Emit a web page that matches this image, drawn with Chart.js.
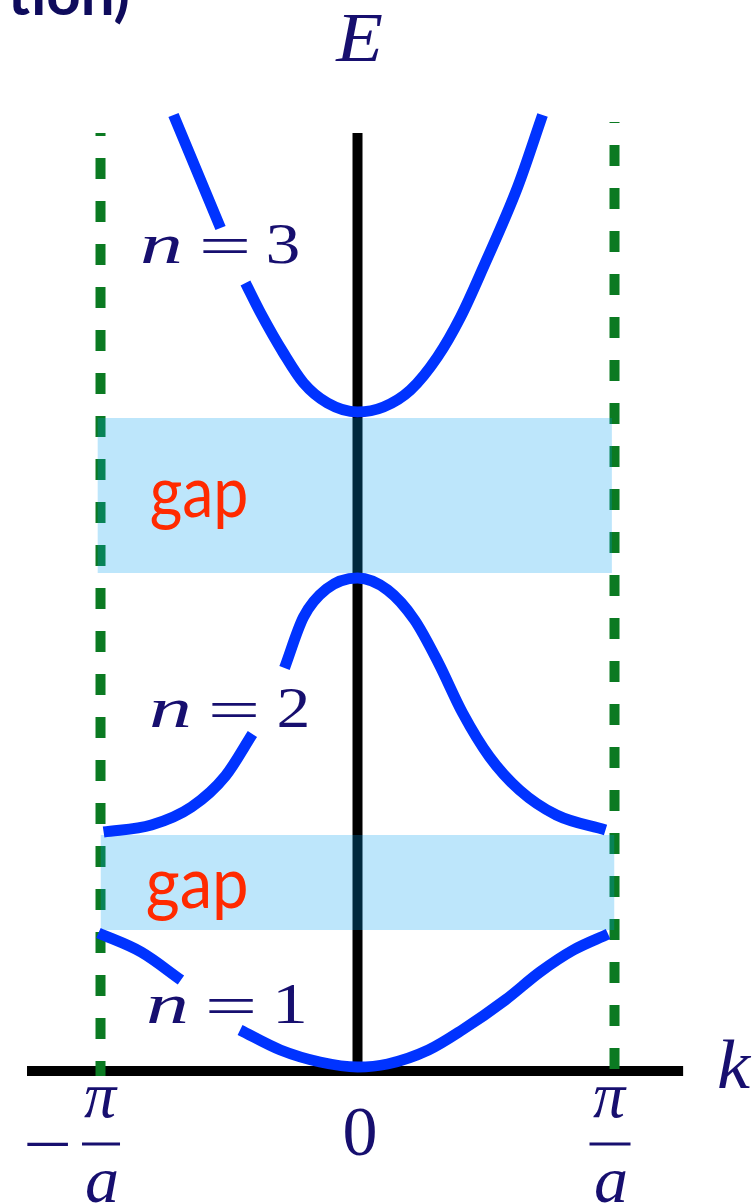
<!DOCTYPE html>
<html>
<head>
<meta charset="utf-8">
<script src="https://cdn.jsdelivr.net/npm/chart.js@4.4.1/dist/chart.umd.min.js"></script>
<style>
  html, body { margin: 0; padding: 0; background: #ffffff; overflow: hidden; }
  canvas { display: block; }
</style>
</head>
<body>
<canvas id="bands" width="752" height="1203"></canvas>
<script>
// Wave vector k in units of pi/a, energy E in arbitrary units.
const zoneEdgeK = [-1, 1];
const tickK = [-1, 0, 1];
const tickLabels = ['−π/a', '0', 'π/a'];

// Axis extents
const axisK = [-1.286, 1.267];
const axisE = [0, 9.38];

// Band n = 3 (left branch is interrupted by its label)
const band3aK = [-0.716, -0.533];
const band3aE = [9.56, 8.43];
const band3bK = [-0.436, -0.377, -0.288, -0.210, -0.117, 0, 0.101, 0.206, 0.311, 0.401, 0.490, 0.623, 0.720];
const band3bE = [7.88, 7.58, 7.18, 6.88, 6.68, 6.59, 6.64, 6.81, 7.14, 7.54, 8.04, 8.84, 9.56];

// Band n = 2
const band2aK = [-0.988, -0.802, -0.646, -0.514, -0.409];
const band2aE = [2.39, 2.46, 2.64, 2.95, 3.37];
const band2bK = [-0.284, -0.210, -0.121, 0, 0.117, 0.222, 0.315, 0.409, 0.514, 0.630, 0.774, 0.965];
const band2bE = [4.03, 4.54, 4.82, 4.93, 4.81, 4.51, 4.08, 3.58, 3.14, 2.81, 2.56, 2.41];

// Band n = 1
const band1aK = [-1.008, -0.842, -0.687];
const band1aE = [1.38, 1.19, 0.91];
const band1bK = [-0.457, -0.300, -0.146, 0, 0.117, 0.276, 0.407, 0.575, 0.710, 0.840, 0.975];
const band1bE = [0.41, 0.21, 0.09, 0.04, 0.07, 0.21, 0.41, 0.71, 0.99, 1.21, 1.37];

// Energy gaps [lower, upper] and their k spans
const gap1E = [1.41, 2.36];
const gap1K = [-1.0, 1.0];
const gap2E = [4.98, 6.53];
const gap2K = [-1.012, 0.990];

const bandNames = ['n = 1', 'n = 2', 'n = 3'];

const pts = (ks, es) => ks.map((k, i) => ({ x: k, y: es[i] }));

const BLUE = '#0033ff';
const GREEN = '#0b7a22';
const NAVY = '#170f6f';
const RED = '#ff2a00';
const GAP_FILL = 'rgba(0, 158, 238, 0.26)';

function curve(ks, es) {
  return {
    data: pts(ks, es),
    borderColor: BLUE,
    borderWidth: 11,
    borderCapStyle: 'butt',
    cubicInterpolationMode: 'monotone',
    pointRadius: 0,
    fill: false,
    order: 1
  };
}

function gapBand(ks, es) {
  return {
    data: pts(ks, [es[1], es[1]]),
    borderColor: 'rgba(0,0,0,0)',
    borderWidth: 0,
    backgroundColor: GAP_FILL,
    pointRadius: 0,
    tension: 0,
    fill: { value: es[0] },
    order: 2
  };
}

function zoneLine(k, eTop, offset) {
  return {
    data: pts([k, k], [eTop, -0.05]),
    borderColor: GREEN,
    borderWidth: 10,
    borderCapStyle: 'butt',
    borderDash: [21, 22],
    borderDashOffset: offset,
    pointRadius: 0,
    fill: false,
    order: 3
  };
}

function axisLine(ks, es) {
  return {
    data: pts(ks, es),
    borderColor: '#000000',
    borderWidth: 10,
    borderCapStyle: 'butt',
    pointRadius: 0,
    fill: false,
    order: 4
  };
}

// Draws text so that its ink box starts at x (left) with the given baseline,
// squeezed or stretched horizontally to a target ink width.
function inkText(ctx, txt, x, baseline, width, font, color) {
  ctx.save();
  ctx.font = font;
  ctx.fillStyle = color;
  ctx.textAlign = 'left';
  ctx.textBaseline = 'alphabetic';
  const m = ctx.measureText(txt);
  const ink = m.actualBoundingBoxLeft + m.actualBoundingBoxRight;
  const s = width / ink;
  ctx.translate(x + m.actualBoundingBoxLeft * s, baseline);
  ctx.scale(s, 1);
  ctx.fillText(txt, 0, 0);
  ctx.restore();
}

// Same, but vertically centred on cy instead of sitting on a baseline.
function inkTextMid(ctx, txt, x, cy, width, font, color) {
  ctx.save();
  ctx.font = font;
  const m = ctx.measureText(txt);
  ctx.restore();
  const base = cy + (m.actualBoundingBoxAscent - m.actualBoundingBoxDescent) / 2;
  inkText(ctx, txt, x, base, width, font, color);
}

const MATH_I = 'italic 58px "Liberation Serif", "DejaVu Serif", serif';
const MATH_R = '58px "Liberation Serif", "DejaVu Serif", serif';

const labelPlugin = {
  id: 'bandLabels',
  afterDatasetsDraw(chart) {
    const ctx = chart.ctx;
    const xs = chart.scales.x, ys = chart.scales.y;
    const px = k => xs.getPixelForValue(k);
    const py = e => ys.getPixelForValue(e);

    // Band labels "n = 1..3", anchored in (k, E)
    const bandAnchors = [
      { k: -0.811, e: 0.48, dw: 26 },
      { k: -0.800, e: 3.44, dw: 28 },
      { k: -0.835, e: 8.08, dw: 30 }
    ];
    bandAnchors.forEach((a, i) => {
      const parts = bandNames[i].split(' ');
      const x0 = px(a.k), b = py(a.e);
      inkText(ctx, parts[0], x0, b, 37, MATH_I, NAVY);
      inkTextMid(ctx, parts[1], x0 + 59, b - 17, 45, MATH_R, NAVY);
      inkText(ctx, parts[2], x0 + 125 + (30 - a.dw), b, a.dw, MATH_R, NAVY);
    });

    // "gap" labels inside the shaded bands
    const gapFont = '72px Lato, "Open Sans", sans-serif';
    inkText(ctx, 'gap', px(-0.802), py(5.54), 95, gapFont, RED);
    inkText(ctx, 'gap', px(-0.817), py(1.63), 99, gapFont, RED);

    // Axis names
    inkText(ctx, 'E', px(-0.087), py(10.10), 47, 'italic 70px "Liberation Serif", serif', NAVY);
    inkText(ctx, 'k', px(1.407), py(-0.17), 33, 'italic 70px "Liberation Serif", serif', NAVY);

    // Tick labels on the k axis
    const fracFont = 'italic 66px "Liberation Serif", serif';
    const barY = py(-0.73);
    tickK.forEach((k, i) => {
      const lab = tickLabels[i];
      if (lab === '0') {
        inkText(ctx, '0', px(k) - 13, py(-0.84), 31, '70px "Liberation Serif", serif', NAVY);
        return;
      }
      const neg = lab.startsWith('−');
      const cx = px(k) + (neg ? 0.5 : -4.5);
      const bw = neg ? 38 : 41;
      inkText(ctx, 'π', cx - 17, py(-0.46), 34, fracFont, NAVY);
      ctx.save();
      ctx.fillStyle = NAVY;
      ctx.fillRect(cx - bw / 2, barY - 1.5, bw, 3);
      ctx.restore();
      inkText(ctx, 'a', cx - 15, py(-1.31), 31, fracFont, NAVY);
      if (neg) {
        inkTextMid(ctx, '−', px(k) - 73.5, barY, 41, '66px "Liberation Serif", serif', NAVY);
      }
    });

    // Tail of the heading above the plot
    ctx.save();
    ctx.font = 'bold 60px Lato, "Open Sans", sans-serif';
    ctx.fillStyle = '#0e0b5c';
    ctx.textAlign = 'right';
    ctx.textBaseline = 'alphabetic';
    ctx.fillText('tion)', 130, 15);
    ctx.restore();
  }
};

new Chart(document.getElementById('bands'), {
  type: 'line',
  data: {
    datasets: [
      curve(band3aK, band3aE),
      curve(band3bK, band3bE),
      curve(band2aK, band2aE),
      curve(band2bK, band2bE),
      curve(band1aK, band1aE),
      curve(band1bK, band1bE),
      gapBand(gap1K, gap1E),
      gapBand(gap2K, gap2E),
      zoneLine(zoneEdgeK[0], 9.38, 18),
      zoneLine(zoneEdgeK[1], 9.49, 20),
      axisLine(axisK, [0, 0]),
      axisLine([0, 0], axisE)
    ]
  },
  options: {
    responsive: false,
    animation: false,
    events: [],
    layout: { padding: 0 },
    plugins: {
      legend: { display: false },
      tooltip: { enabled: false }
    },
    scales: {
      x: { type: 'linear', min: -1.3911, max: 1.5350, display: false },
      y: { type: 'linear', min: -1.32, max: 10.71, display: false }
    }
  },
  plugins: [labelPlugin]
});
</script>
</body>
</html>
